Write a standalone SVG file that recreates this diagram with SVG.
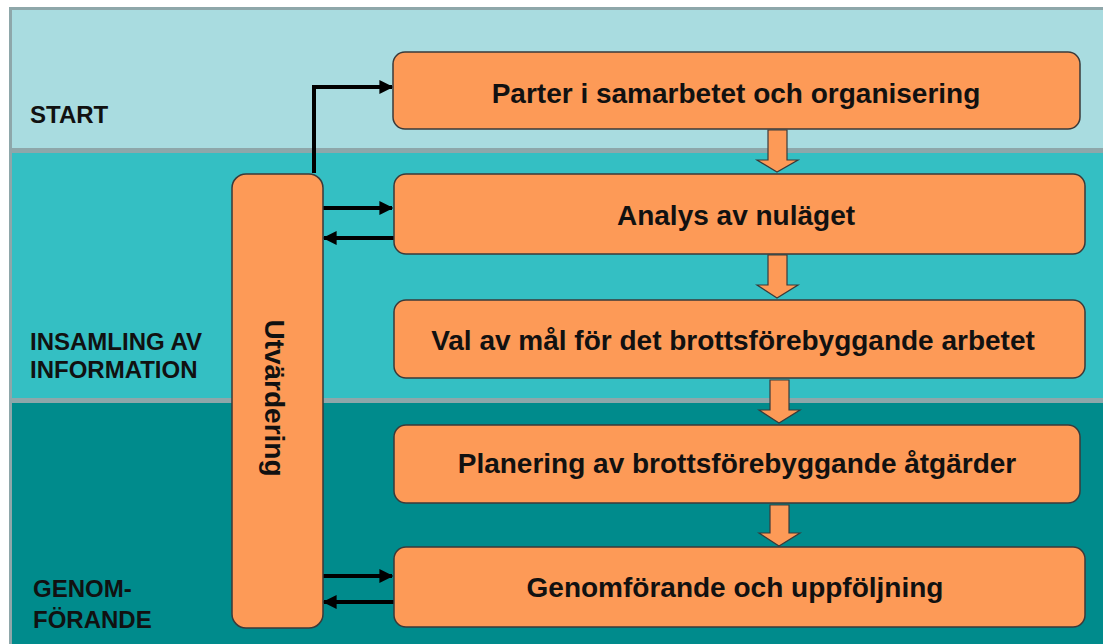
<svg xmlns="http://www.w3.org/2000/svg" width="1103" height="644" viewBox="0 0 1103 644">
<defs>
<style>
.box{fill:#fd9a57;stroke:#3a3a3a;stroke-width:1.5}
.t{font-family:"Liberation Sans",Arial,sans-serif;font-weight:bold;font-size:28px;fill:#111;text-anchor:middle}
.lbl{font-family:"Liberation Sans",Arial,sans-serif;font-weight:bold;font-size:24px;fill:#111}
.con{fill:none;stroke:#000;stroke-width:4}
.blk{fill:#fd9a57;stroke:#3a3a3a;stroke-width:1.2}
</style>
<marker id="ah" viewBox="0 0 10 10" refX="9" refY="5" markerWidth="3.5" markerHeight="3.5" orient="auto" markerUnits="strokeWidth">
<path d="M0,0 L10,5 L0,10 z" fill="#000"/>
</marker>
</defs>
<rect x="0" y="0" width="1103" height="644" fill="#ffffff"/>
<rect x="9" y="7" width="1094" height="637" fill="#8ea7aa"/>
<rect x="12" y="10" width="1091" height="138" fill="#a9dce0"/>
<rect x="12" y="153" width="1091" height="245" fill="#34bfc3"/>
<rect x="12" y="403" width="1091" height="241" fill="#008b8c"/>
<g id="lanes">
<text class="lbl" x="30" y="123">START</text>
<text class="lbl" x="30" y="350">INSAMLING AV</text>
<text class="lbl" x="30" y="378">INFORMATION</text>
<text class="lbl" x="33" y="597">GENOM-</text>
<text class="lbl" x="33" y="628">FÖRANDE</text>
</g>
<g id="flow-arrows">
<path class="blk" d="M768,130 H787 V160 H798 L777,172 L757,160 H768 Z"/>
<path class="blk" d="M768,255 H787 V285 H798 L777,298 L757,285 H768 Z"/>
<path class="blk" d="M770,380 H789 V410 H800 L779,423 L759,410 H770 Z"/>
<path class="blk" d="M770,505 H789 V533 H800 L779,546 L759,533 H770 Z"/>
</g>
<g id="connectors">
<path class="con" d="M314,173 V87 H392" marker-end="url(#ah)"/>
<path class="con" d="M323,208 H392" marker-end="url(#ah)"/>
<path class="con" d="M394,238 H324" marker-end="url(#ah)"/>
<path class="con" d="M323,576 H392" marker-end="url(#ah)"/>
<path class="con" d="M394,602 H324" marker-end="url(#ah)"/>
</g>
<g id="n-utv">
<rect class="box" x="232" y="174" width="91" height="454" rx="14"/>
<text class="t" transform="translate(273,398) rotate(90)" y="8">Utvärdering</text>
</g>
<g id="n1">
<rect class="box" x="393" y="52" width="687" height="77" rx="12"/>
<text class="t" x="736" y="103">Parter i samarbetet och organisering</text>
</g>
<g id="n2">
<rect class="box" x="394" y="174" width="691" height="80" rx="12"/>
<text class="t" x="736" y="225">Analys av nuläget</text>
</g>
<g id="n3">
<rect class="box" x="394" y="300" width="691" height="78" rx="12"/>
<text class="t" x="733" y="350">Val av mål för det brottsförebyggande arbetet</text>
</g>
<g id="n4">
<rect class="box" x="394" y="425" width="686" height="78" rx="12"/>
<text class="t" x="737" y="473">Planering av brottsförebyggande åtgärder</text>
</g>
<g id="n5">
<rect class="box" x="394" y="547" width="691" height="80" rx="12"/>
<text class="t" x="735" y="597">Genomförande och uppföljning</text>
</g>
</svg>
